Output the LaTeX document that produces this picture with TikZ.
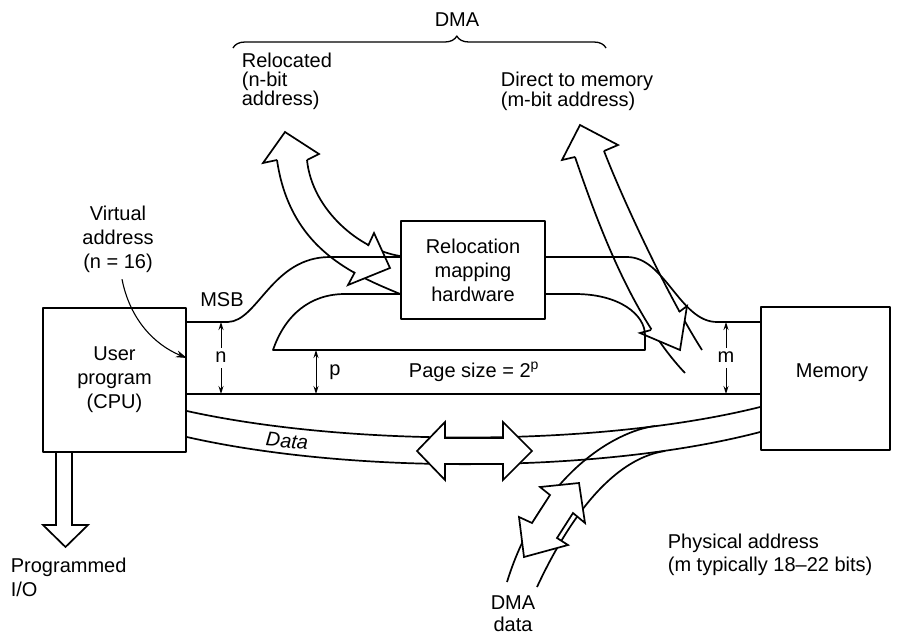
\documentclass[tikz,border=0pt]{standalone}
\usepackage{fontspec}
\setmainfont{Liberation Sans}
\usetikzlibrary{arrows.meta,decorations.pathreplacing}

\begin{document}
\begin{tikzpicture}[x=1pt,y=-1pt, line width=1.7pt, line join=round,
  lbl/.style={font=\fontsize{20}{24}\selectfont, inner sep=0pt},
  box/.style={draw, fill=white, inner sep=0pt, align=center,
              font=\fontsize{20}{24}\selectfont},
  dimtip/.style={-{Stealth[length=8pt,width=5pt]}, line width=1pt},
  hollow/.style={line join=miter},
  band/.style={line width=1.7pt}]

\useasboundingbox (0,0) rectangle (902,635);

% ---- functional blocks
\node[box, minimum width=143pt, minimum height=144pt] (cpu) at (114.5,380) {User\\program\\(CPU)};
\node[box, minimum width=129pt, minimum height=143pt] (mem) at (825.5,378.5) {};
\node[lbl] (memlab) at (832,373) {Memory};
\node[box, minimum width=144pt, minimum height=98pt]  (rmh) at (473,270) {Relocation\\mapping\\hardware};

% ---- relocated DMA path (n-bit address) into the mapping hardware
\draw[band] (rmh.west |- 0,256) .. controls (360,250) and (312,210) .. (307,160);
\draw[band] (rmh.west |- 0,294) .. controls (355,275) and (290,250) .. (277,160);
\draw[hollow] (277,160) -- (263,163) -- (285,132) -- (319,154) -- (307,160);
\fill[white] (368,246) -- (374,233) -- (390,268) -- (348,285) -- (355,272) -- cycle;
\draw[hollow] (368,246) -- (374,233) -- (390,268) -- (348,285) -- (355,272);

% ---- direct-to-memory DMA path (m-bit address)
\draw[band] (575,157) .. controls (595,215) and (630,315) .. (685,373);
\draw[band] (604,151) .. controls (625,205) and (670,300) .. (702,350);
\draw[hollow] (575,157) -- (562,160) -- (580,125) -- (618,145) -- (604,151);
\fill[white] (651,330) -- (640,333) -- (680,350) -- (687,306) -- (679,312) -- cycle;
\draw[hollow] (651,330) -- (640,333) -- (680,350) -- (687,306) -- (679,312);

% ---- address bus: MSB field through the mapping hardware
\draw (cpu.east |- 0,322) -- (228,322) .. controls (258,321) and (272,257) .. (330,257) -- (rmh.west |- 0,257);
\draw (rmh.east |- 0,257) -- (627,257) .. controls (665,257) and (680,322) .. (717,322) -- (mem.west |- 0,322);
\draw (rmh.west |- 0,294) -- (345,294) .. controls (310,294) and (285,315) .. (273,350)
      -- (645,350) -- (645,335) .. controls (645,315) and (620,294) .. (575,294) -- (rmh.east |- 0,294);
% page offset / LSB boundary
\draw (cpu.east |- 0,394) -- (mem.west |- 0,394);

% ---- data bus
\draw (cpu.east |- 0,411) .. controls (350,447) and (600,447) .. (mem.west |- 0,407);
\draw (cpu.east |- 0,437) .. controls (350,474) and (600,474) .. (mem.west |- 0,432);
\draw[hollow, fill=white] (417,451) -- (445,422) -- (445,438) -- (503,438) -- (503,422) -- (532,451)
      -- (503,480) -- (503,464) -- (445,464) -- (445,480) -- cycle;

% ---- DMA data branch
\draw[band] (655,426) .. controls (615,431) and (540,475) .. (507,582);
\draw[band] (665,451) .. controls (625,457) and (580,495) .. (537,587);
\draw[hollow, fill=white] (579,483) -- (585,523) -- (573,513) -- (557,538) -- (568,545) -- (524,557)
      -- (519,517) -- (532,523) -- (550,495) -- (540,487) -- cycle;

% ---- programmed I/O
\draw[hollow] (cpu.south -| 56,0) -- (56,525) -- (43,525) -- (65.5,547) -- (88,525) -- (72,525) -- (cpu.south -| 72,0);

% ---- field widths
\node[lbl] (nlab) at (221,357) {n};
\draw[dimtip] (nlab.north) ++(0,-3) -- (221,322);
\draw[dimtip] (nlab.south) ++(0,5) -- (221,394);
\node[lbl] (mlab) at (726,357) {m};
\draw[dimtip] (mlab.north) ++(0,-3) -- (726,322);
\draw[dimtip] (mlab.south) ++(0,5) -- (726,394);
\coordinate (ptop) at (316,350);
\coordinate (pbot) at (316,394);
\draw[{Stealth[length=8pt,width=5pt]}-{Stealth[length=8pt,width=5pt]}, line width=1pt] (ptop) -- (pbot);
\node[lbl] (plab) at (335,372) {p};

% ---- labels
\node[lbl] (dma) at (457,20) {DMA};
\coordinate (brL) at (233,48);
\coordinate (brR) at (606,48);
\draw[decorate, decoration={brace, amplitude=12pt, aspect=0.6}, line width=1.3pt] (brL) -- (brR);
\node[lbl, align=left, anchor=west, font=\fontsize{20}{18.5}\selectfont] (reloc) at (241,81.5) {Relocated\\(n-bit\\address)};
\node[lbl, align=left, anchor=west, font=\fontsize{20}{18.5}\selectfont] (direct) at (500,91) {Direct to memory\\(m-bit address)};
\node[lbl, align=center] (va) at (118,239) {Virtual\\address\\(n = 16)};
\draw[line width=1.1pt, -{Stealth[length=11pt,width=7pt]}] ([shift={(4,6)}]va.south) .. controls (130,320) and (155,345) .. (cpu.east |- 0,358);
\node[lbl] (msb) at (222,300) {MSB};
\node[lbl] (page) at (474,372) {Page size = 2\textsuperscript{p}};
\node[lbl, font=\itshape\fontsize{20}{24}\selectfont, rotate=-5] (datalab) at (287,441) {Data};
\node[lbl, align=left, anchor=west, font=\fontsize{20}{23}\selectfont] (phys) at (667,554.5) {Physical address\\(m typically 18--22 bits)};
\node[lbl, align=left, anchor=west] (pio) at (10,577) {Programmed\\I/O};
\node[lbl, align=center, font=\fontsize{20}{22}\selectfont] (dmad) at (513,614) {DMA\\data};

\end{tikzpicture}
\end{document}
